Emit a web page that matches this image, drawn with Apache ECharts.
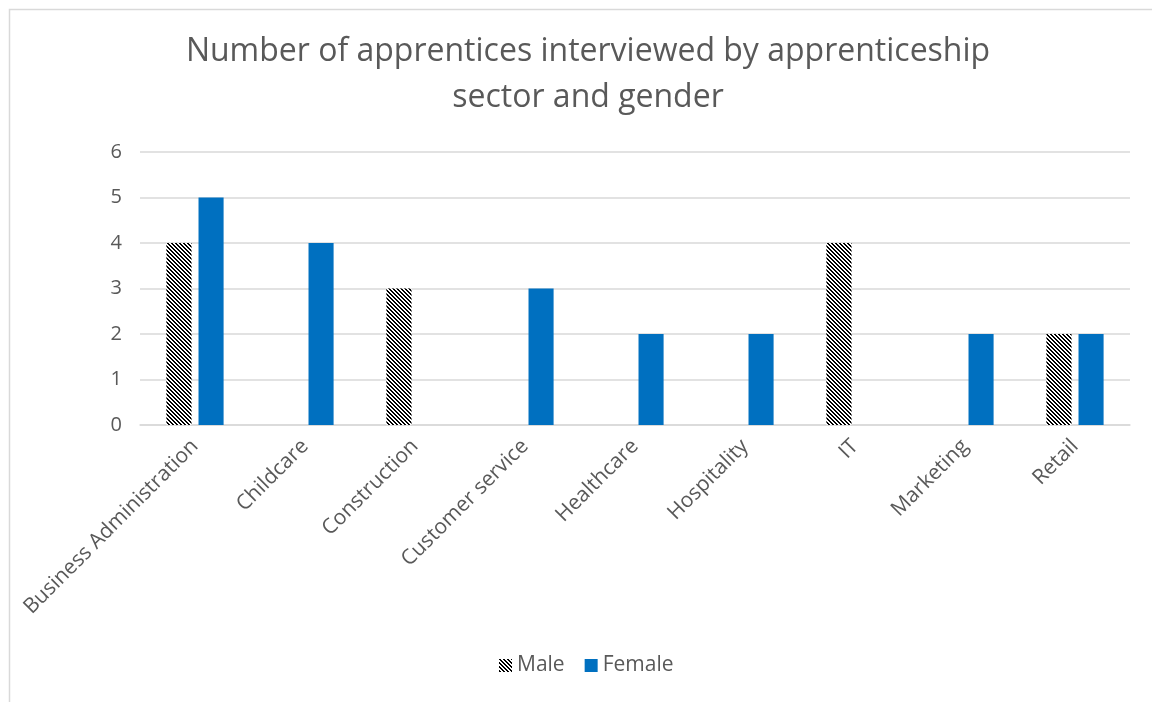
<!DOCTYPE html>
<html>
<head>
<meta charset="utf-8">
<script src="https://cdn.jsdelivr.net/npm/echarts@6/dist/echarts.min.js"></script>
<style>
  html, body { margin: 0; padding: 0; background: #ffffff; }
  #chart { width: 1152px; height: 702px; }
</style>
</head>
<body>
<div id="chart"></div>
<script>
// Apprentices interviewed, per sector and gender
const sectors = ['Business Administration', 'Childcare', 'Construction', 'Customer service',
  'Healthcare', 'Hospitality', 'IT', 'Marketing', 'Retail'];
const maleCounts = [4, null, 3, null, null, null, 4, null, 2];
const femaleCounts = [5, 4, null, 3, 2, 2, null, 2, 2];
const yTicks = [0, 1, 2, 3, 4, 5, 6];

const textFont = '"Open Sans", "Noto Sans", sans-serif';
const textColor = '#595959';

// Black and white downward-diagonal hatch for the male bars
function hatchPattern() {
  const size = 4;
  const c = document.createElement('canvas');
  c.width = size; c.height = size;
  const ctx = c.getContext('2d');
  ctx.fillStyle = '#ffffff';
  ctx.fillRect(0, 0, size, size);
  ctx.fillStyle = '#000000';
  for (let y = 0; y < size; y++) {
    for (let x = 0; x < size; x++) {
      const d = ((x - y) % size + size) % size;
      if (d < 2) ctx.fillRect(x, y, 1, 1);
    }
  }
  return { image: c, repeat: 'repeat' };
}
const hatch = hatchPattern();

const chart = echarts.init(document.getElementById('chart'), null, { renderer: 'canvas' });
chart.setOption({
  backgroundColor: '#ffffff',
  animation: false,
  graphic: [{
    type: 'rect',
    left: 7, top: 7,
    shape: { width: 1200, height: 760 },
    style: { fill: 'none', stroke: '#d9d9d9', lineWidth: 1.5 },
    silent: true
  }],
  title: {
    text: 'Number of apprentices interviewed by apprenticeship\nsector and gender',
    left: 583, top: 24, textAlign: 'center',
    textStyle: { fontFamily: textFont, fontSize: 32, fontWeight: 'normal', color: textColor, lineHeight: 46 }
  },
  legend: {
    bottom: 21, left: 494,
    itemWidth: 13, itemHeight: 13, itemGap: 20,
    textStyle: { fontFamily: textFont, fontSize: 21, color: textColor },
    data: [
      { name: 'Male', icon: 'rect', itemStyle: { color: hatch } },
      { name: 'Female', icon: 'rect' }
    ]
  },
  grid: { left: 140, right: 22, top: 152, bottom: 277 },
  xAxis: {
    type: 'category',
    data: sectors,
    axisLine: { lineStyle: { color: '#d9d9d9', width: 1.5 } },
    axisTick: { show: false },
    axisLabel: { rotate: 45, margin: 18, interval: 0, fontFamily: textFont, fontSize: 21, color: textColor }
  },
  yAxis: {
    type: 'value',
    min: yTicks[0], max: yTicks[yTicks.length - 1], interval: 1,
    axisLine: { show: false },
    axisTick: { show: false },
    splitLine: { lineStyle: { color: '#d9d9d9', width: 1.5 } },
    axisLabel: { margin: 18, fontFamily: textFont, fontSize: 20, color: textColor }
  },
  series: [
    {
      name: 'Male', type: 'bar', data: maleCounts,
      barGap: '28%', barCategoryGap: '48%',
      itemStyle: { color: hatch }
    },
    {
      name: 'Female', type: 'bar', data: femaleCounts,
      itemStyle: { color: '#0070c0' }
    }
  ]
});
</script>
</body>
</html>
